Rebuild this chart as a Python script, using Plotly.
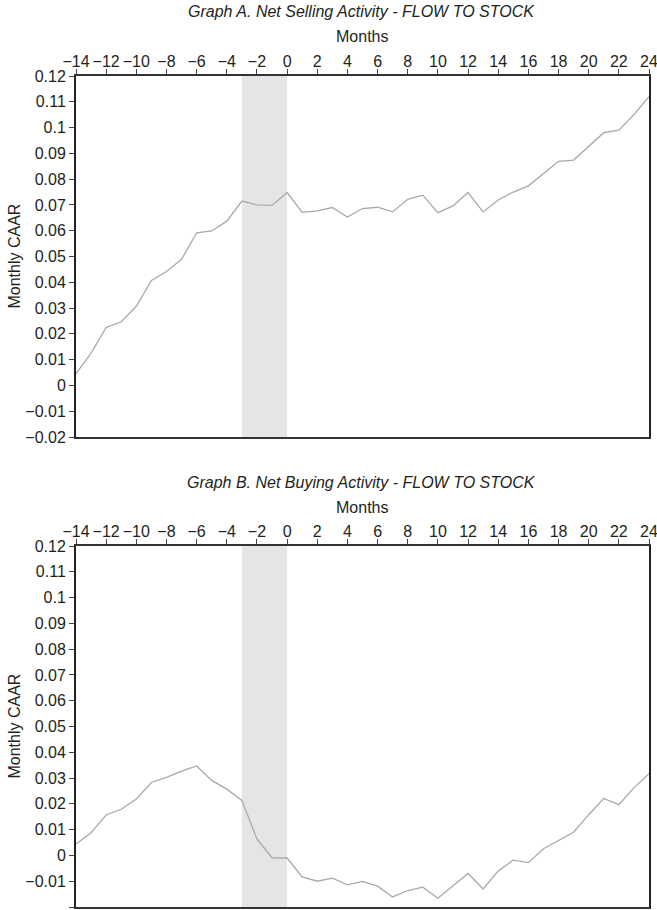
import plotly.graph_objects as go

months = list(range(-14, 25))

selling_caar = [0.0046, 0.0125, 0.0225, 0.0247, 0.0307, 0.0407, 0.0442, 0.0489,
                0.0592, 0.0599, 0.0637, 0.0715, 0.0700, 0.0698, 0.0748, 0.0671,
                0.0677, 0.0690, 0.0653, 0.0686, 0.0691, 0.0673, 0.0722, 0.0738,
                0.0670, 0.0696, 0.0748, 0.0673, 0.0719, 0.0750, 0.0774, 0.0823,
                0.0869, 0.0874, 0.0926, 0.0980, 0.0990, 0.1050, 0.1120]

buying_caar = [0.0044, 0.0088, 0.0157, 0.0179, 0.0219, 0.0283, 0.0303, 0.0327,
               0.0347, 0.0291, 0.0257, 0.0213, 0.0064, -0.0009, -0.0010, -0.0083,
               -0.0100, -0.0088, -0.0114, -0.0101, -0.0119, -0.0161, -0.0136, -0.0123,
               -0.0166, -0.0119, -0.0070, -0.0130, -0.0060, -0.0018, -0.0028, 0.0026,
               0.0058, 0.0090, 0.0158, 0.0221, 0.0197, 0.0262, 0.0317]

titles = ["Graph A. Net Selling Activity - FLOW TO STOCK",
          "Graph B. Net Buying Activity - FLOW TO STOCK"]
x_title = "Months"
y_title = "Monthly CAAR"
shade_range = [-3, 0]
y_range = [-0.02, 0.12]
x_range = [-14, 24]
x_ticks = list(range(-14, 25, 2))
y_ticks = [round(-0.02 + 0.01 * k, 2) for k in range(15)]

W, H = 657, 910
FONT = "Liberation Sans, Arial, sans-serif"
TXT = "#231f20"
FS = 16

# pixel geometry of each panel (top, bottom)
panels = [(76, 437), (546, 907)]
left_px, right_px = 76, 649


def fmt(v):
    if abs(v) < 1e-9:
        return "0"
    s = f"{abs(v):.2f}".rstrip("0").rstrip(".")
    return ("\u2212" if v < 0 else "") + s


fig = go.Figure()
for i, (vals, (top, bot)) in enumerate(zip([selling_caar, buying_caar], panels)):
    xa = "x" if i == 0 else "x2"
    ya = "y" if i == 0 else "y2"
    fig.add_trace(go.Scatter(x=months, y=vals, mode="lines",
                             line=dict(color="#a9a9a9", width=1.3),
                             xaxis=xa, yaxis=ya, showlegend=False,
                             hoverinfo="skip"))
    fig.add_shape(type="rect", xref=xa, yref=ya,
                  x0=shade_range[0], x1=shade_range[1], y0=y_range[0], y1=y_range[1],
                  fillcolor="#e4e6e5", line=dict(width=0), layer="below")

    dom_y = [(H - bot) / H, (H - top) / H]
    axis_x = dict(domain=[0, 1], range=x_range, side="top", tickmode="array",
                  tickvals=x_ticks, ticktext=[fmt(v) for v in x_ticks],
                  tickangle=0, ticklabeloverflow="allow", ticklabelstandoff=-4,
                  ticks="outside", ticklen=5,
                  tickcolor="#444", tickwidth=1.2, showline=True, linecolor="#333",
                  linewidth=1.6, mirror=True, showgrid=False, zeroline=False,
                  tickfont=dict(family=FONT, size=FS, color=TXT),
                  anchor=ya)
    axis_y = dict(domain=dom_y, range=y_range, tickmode="array",
                  tickvals=y_ticks, ticktext=[fmt(v) for v in y_ticks],
                  ticks="outside", ticklen=5, tickcolor="#444", tickwidth=1.2,
                  showline=True, linecolor="#222", linewidth=2, mirror=True,
                  showgrid=False, zeroline=False,
                  tickfont=dict(family=FONT, size=FS, color=TXT), anchor=xa)
    if i == 0:
        fig.update_layout(xaxis=axis_x, yaxis=axis_y)
    else:
        fig.update_layout(xaxis2=axis_x, yaxis2=axis_y)

    # panel title
    fig.add_annotation(text=f"<i>{titles[i]}</i>", xref="paper", yref="paper",
                       x=(361 - left_px) / (right_px - left_px), y=(H - (top - 64)) / H,
                       showarrow=False, xanchor="center", yanchor="middle",
                       font=dict(family=FONT, size=FS, color=TXT))
    # x axis title
    fig.add_annotation(text=x_title, xref="paper", yref="paper",
                       x=(362 - left_px) / (right_px - left_px), y=(H - (top - 39)) / H,
                       showarrow=False, xanchor="center", yanchor="middle",
                       font=dict(family=FONT, size=FS, color=TXT))
    # y axis title
    fig.add_annotation(text=y_title, xref="paper", yref="paper",
                       x=(14 - left_px) / (right_px - left_px), y=(H - (top + bot) / 2) / H,
                       textangle=-90, showarrow=False, xanchor="center", yanchor="middle",
                       font=dict(family=FONT, size=FS, color=TXT))

fig.update_layout(width=W, height=H,
                  margin=dict(l=left_px, r=W - right_px, t=0, b=0, autoexpand=False),
                  paper_bgcolor="white", plot_bgcolor="white")

fig.write_html("out.html", config={"displayModeBar": False},
               post_script="document.body.style.margin='0px';document.body.style.overflow='hidden';")
